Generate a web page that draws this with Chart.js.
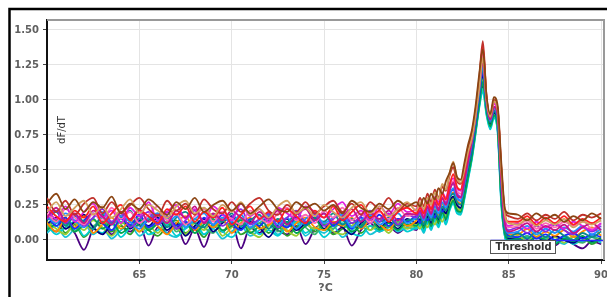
<!DOCTYPE html>
<html><head><meta charset="utf-8">
<script src="https://cdn.jsdelivr.net/npm/chart.js@4.4.1/dist/chart.umd.min.js"></script>
<style>html,body{margin:0;padding:0;background:#fff;}canvas{display:block;}</style>
</head><body>
<canvas id="c" width="607" height="297"></canvas>
<script>
// Temperature grid (°C)
const xs = [60,60.5,61,61.5,62,62.5,63,63.5,64,64.5,65,65.5,66,66.5,67,67.5,68,68.5,69,69.5,70,70.5,71,71.5,72,72.5,73,73.5,74,74.5,75,75.5,76,76.5,77,77.5,78,78.5,79,79.5,80,
  80.2,80.4,80.6,80.8,81,81.2,81.4,81.6,81.8,82,82.2,82.4,82.6,82.8,83,83.2,83.4,83.6,83.8,84,84.2,84.4,84.6,84.8,85,
  85.5,86,86.5,87,87.5,88,88.5,89,89.5,90];

// dF/dT series (one per sample)
const s1 = [0.30,0.20,0.28,0.18,0.26,0.30,0.19,0.27,0.20,0.25,0.30,0.22,0.17,0.28,0.21,0.26,0.18,0.29,0.22,0.19,0.27,0.20,0.26,0.30,0.21,0.18,0.25,0.20,0.27,0.19,0.24,0.28,0.20,0.26,0.18,0.27,0.22,0.30,0.21,0.26,0.24,
  0.30,0.24,0.33,0.27,0.36,0.30,0.38,0.35,0.46,0.52,0.42,0.40,0.52,0.66,0.75,0.92,1.15,1.42,1.02,0.88,1.00,0.94,0.50,0.20,0.17,
  0.15,0.19,0.14,0.18,0.15,0.20,0.14,0.18,0.16,0.19];
const s2 = [0.18,0.10,0.16,0.08,0.14,0.19,0.12,0.07,0.15,0.11,0.18,0.09,0.14,0.20,0.10,0.13,0.08,0.16,0.11,0.18,0.12,0.07,0.15,0.10,0.17,0.13,0.09,0.16,0.11,0.14,0.19,0.10,0.15,0.08,0.16,0.12,0.18,0.10,0.15,0.13,0.17,
  0.12,0.18,0.14,0.20,0.16,0.24,0.20,0.28,0.33,0.36,0.30,0.28,0.38,0.52,0.64,0.82,1.02,1.20,0.96,0.84,0.92,0.86,0.38,0.08,0.03,
  0.02,0.05,0.01,0.04,0.00,0.03,0.05,0.01,0.04,0.02];
const s3 = [0.08,0.14,0.05,0.11,0.02,0.09,0.13,0.06,0.10,0.04,0.12,0.07,0.03,0.10,0.14,0.05,0.09,0.02,0.11,0.06,0.13,0.04,0.08,0.12,0.05,0.10,0.03,0.09,0.13,0.06,0.11,0.04,0.08,0.12,0.05,0.10,0.07,0.13,0.08,0.11,0.09,
  0.14,0.08,0.16,0.10,0.18,0.12,0.22,0.18,0.26,0.30,0.24,0.22,0.34,0.48,0.62,0.80,0.98,1.12,0.92,0.82,0.90,0.80,0.30,0.04,0.00,
  -0.02,0.02,-0.03,0.01,-0.02,0.03,-0.01,0.02,-0.03,0.01];
const s4 = [0.22,0.15,0.24,0.13,0.20,0.26,0.16,0.21,0.12,0.23,0.17,0.27,0.14,0.20,0.25,0.15,0.22,0.13,0.24,0.18,0.14,0.26,0.17,0.22,0.13,0.23,0.19,0.15,0.24,0.20,0.16,0.22,0.27,0.17,0.21,0.14,0.24,0.18,0.26,0.20,0.22,
  0.26,0.20,0.28,0.22,0.31,0.27,0.34,0.30,0.40,0.44,0.37,0.35,0.46,0.60,0.72,0.90,1.10,1.30,1.00,0.87,0.97,0.92,0.46,0.14,0.10,
  0.12,0.08,0.13,0.09,0.12,0.08,0.13,0.10,0.07,0.12];
const s5 = [0.12,0.06,0.15,0.09,0.17,0.05,0.11,0.16,0.08,0.13,0.06,0.15,0.10,0.04,0.12,0.17,0.07,0.13,0.09,0.15,0.05,0.12,0.16,0.08,0.11,0.14,0.06,0.12,0.16,0.09,0.07,0.13,0.10,0.16,0.08,0.14,0.11,0.07,0.15,0.10,0.14,
  0.18,0.12,0.20,0.15,0.22,0.18,0.26,0.22,0.30,0.34,0.28,0.26,0.40,0.54,0.68,0.86,1.06,1.25,0.97,0.85,0.93,0.87,0.40,0.09,0.04,
  0.04,0.08,0.02,0.06,0.03,0.07,0.02,0.06,0.09,0.03];
const s6 = [0.05,0.10,0.02,0.08,0.12,0.04,0.09,0.01,0.07,0.11,0.03,0.08,0.12,0.05,0.02,0.09,0.13,0.04,0.08,0.01,0.06,0.10,0.03,0.07,0.11,0.04,0.09,0.12,0.03,0.08,0.05,0.10,0.02,0.07,0.11,0.04,0.08,0.12,0.06,0.09,0.08,
  0.10,0.05,0.12,0.07,0.15,0.10,0.18,0.12,0.22,0.27,0.20,0.19,0.30,0.44,0.58,0.76,0.95,1.08,0.90,0.80,0.88,0.78,0.26,0.02,-0.02,
  -0.01,0.03,-0.02,0.02,0.00,-0.03,0.02,-0.01,0.03,0.00];
const s7 = [0.15,0.21,0.12,0.18,0.10,0.16,0.22,0.13,0.19,0.09,0.15,0.20,0.11,0.17,0.08,0.14,0.21,0.12,0.18,0.10,0.16,0.22,0.11,0.15,0.19,0.09,0.16,0.21,0.13,0.18,0.10,0.15,0.20,0.12,0.17,0.21,0.13,0.19,0.11,0.18,0.16,
  0.20,0.15,0.23,0.18,0.26,0.22,0.30,0.26,0.36,0.40,0.33,0.31,0.43,0.57,0.70,0.88,1.08,1.28,0.99,0.86,0.95,0.90,0.44,0.12,0.07,
  0.09,0.05,0.10,0.06,0.11,0.07,0.04,0.09,0.06,0.10];
const s8 = [0.26,0.33,0.22,0.29,0.20,0.27,0.23,0.31,0.19,0.26,0.22,0.29,0.24,0.18,0.27,0.22,0.30,0.20,0.25,0.28,0.21,0.26,0.19,0.24,0.29,0.22,0.20,0.27,0.23,0.26,0.21,0.25,0.19,0.28,0.23,0.20,0.26,0.22,0.28,0.24,0.27,
  0.24,0.30,0.26,0.33,0.29,0.37,0.33,0.42,0.48,0.55,0.45,0.43,0.55,0.68,0.78,0.95,1.18,1.36,1.03,0.90,1.02,0.96,0.55,0.22,0.19,
  0.18,0.14,0.19,0.15,0.18,0.13,0.17,0.14,0.19,0.15];
const s9 = [0.11,0.16,0.08,0.13,0.18,0.09,0.04,0.12,0.17,0.08,0.14,0.10,0.16,0.07,0.12,0.03,0.10,0.15,0.06,0.12,0.17,0.08,0.13,0.09,0.02,0.11,0.15,0.07,0.12,0.16,0.08,0.13,0.09,0.04,0.12,0.16,0.09,0.13,0.08,0.15,0.12,
  0.15,0.10,0.17,0.12,0.19,0.14,0.22,0.19,0.28,0.31,0.25,0.23,0.36,0.50,0.64,0.82,1.02,1.18,0.94,0.83,0.91,0.84,0.34,0.06,0.01,
  0.01,-0.02,0.02,-0.01,0.03,0.00,-0.02,0.02,-0.01,0.01];
const s10 = [0.10,0.06,0.12,0.05,-0.07,0.08,0.12,0.04,0.10,0.06,0.11,-0.04,0.09,0.05,0.11,-0.03,0.08,-0.05,0.10,0.06,0.12,-0.06,0.09,0.05,0.11,0.07,0.04,0.10,-0.03,0.08,0.11,0.05,0.09,-0.04,0.07,0.12,0.06,0.10,0.05,0.09,0.07,
  0.12,0.08,0.14,0.09,0.16,0.11,0.19,0.14,0.24,0.28,0.22,0.20,0.32,0.46,0.60,0.78,0.97,1.10,0.91,0.81,0.89,0.80,0.28,0.03,-0.02,
  -0.04,0.00,-0.05,-0.01,-0.04,0.01,-0.03,-0.06,-0.01,-0.03];
const s11 = [0.19,0.13,0.22,0.16,0.11,0.19,0.14,0.23,0.15,0.20,0.12,0.18,0.24,0.14,0.19,0.11,0.17,0.22,0.13,0.20,0.15,0.11,0.21,0.16,0.12,0.19,0.23,0.14,0.18,0.12,0.21,0.16,0.23,0.14,0.19,0.12,0.20,0.15,0.23,0.17,0.20,
  0.22,0.17,0.25,0.20,0.28,0.24,0.31,0.28,0.38,0.42,0.35,0.33,0.44,0.58,0.71,0.89,1.12,1.33,1.01,0.88,0.98,0.93,0.48,0.15,0.09,
  0.10,0.14,0.08,0.12,0.09,0.13,0.10,0.14,0.08,0.12];
const s12 = [0.13,0.08,0.04,0.12,0.07,0.14,0.09,0.03,0.11,0.15,0.06,0.10,0.05,0.13,0.09,0.04,0.12,0.07,0.14,0.03,0.09,0.12,0.06,0.02,0.10,0.14,0.07,0.03,0.11,0.08,0.13,0.06,0.04,0.10,0.14,0.07,0.11,0.05,0.12,0.08,0.11,
  0.08,0.13,0.09,0.15,0.11,0.17,0.13,0.20,0.25,0.29,0.23,0.21,0.33,0.47,0.61,0.79,0.99,1.15,0.93,0.83,0.91,0.82,0.32,0.05,0.01,
  0.03,-0.01,0.04,0.00,0.02,-0.02,0.03,0.01,-0.01,0.02];
const s13 = [0.14,0.20,0.10,0.17,0.13,0.08,0.18,0.12,0.16,0.21,0.10,0.14,0.19,0.09,0.16,0.20,0.12,0.09,0.17,0.13,0.19,0.10,0.14,0.18,0.08,0.15,0.12,0.20,0.10,0.16,0.13,0.19,0.11,0.15,0.09,0.17,0.13,0.16,0.10,0.14,0.15,
  0.17,0.11,0.19,0.14,0.21,0.16,0.24,0.21,0.30,0.33,0.27,0.25,0.38,0.52,0.66,0.84,1.04,1.22,0.96,0.84,0.92,0.86,0.37,0.07,0.02,
  0.05,0.01,0.06,0.02,0.07,0.03,0.00,0.05,0.02,0.06];
const s14 = [0.24,0.17,0.13,0.21,0.16,0.24,0.12,0.19,0.25,0.14,0.21,0.17,0.12,0.22,0.18,0.24,0.13,0.20,0.16,0.23,0.11,0.18,0.24,0.15,0.20,0.13,0.22,0.17,0.12,0.21,0.16,0.24,0.14,0.20,0.25,0.16,0.21,0.13,0.20,0.23,0.19,
  0.23,0.19,0.27,0.22,0.30,0.25,0.33,0.29,0.39,0.47,0.38,0.36,0.48,0.62,0.73,0.90,1.12,1.38,1.02,0.89,0.99,0.94,0.52,0.18,0.13,
  0.13,0.17,0.11,0.16,0.12,0.17,0.11,0.15,0.12,0.16];
const s15 = [0.09,0.15,0.11,0.06,0.14,0.10,0.16,0.07,0.13,0.09,0.17,0.08,0.12,0.16,0.06,0.11,0.15,0.09,0.05,0.13,0.10,0.15,0.08,0.12,0.16,0.06,0.11,0.14,0.09,0.04,0.12,0.08,0.15,0.10,0.13,0.07,0.15,0.09,0.13,0.10,0.12,
  0.14,0.10,0.16,0.11,0.19,0.15,0.21,0.16,0.25,0.29,0.24,0.22,0.34,0.49,0.63,0.81,1.00,1.16,0.93,0.82,0.90,0.83,0.33,0.05,0.00,
  0.00,0.03,-0.02,0.02,-0.01,0.03,0.00,-0.02,0.02,0.00];
const s16 = [0.17,0.12,0.19,0.14,0.09,0.16,0.20,0.11,0.17,0.13,0.08,0.16,0.19,0.12,0.17,0.09,0.15,0.19,0.11,0.16,0.13,0.18,0.09,0.14,0.18,0.11,0.16,0.08,0.15,0.19,0.12,0.16,0.18,0.09,0.14,0.18,0.11,0.15,0.19,0.12,0.16,
  0.19,0.14,0.21,0.16,0.24,0.19,0.27,0.23,0.32,0.37,0.30,0.28,0.40,0.55,0.69,0.87,1.06,1.24,0.98,0.85,0.94,0.88,0.41,0.10,0.05,
  0.06,0.10,0.04,0.08,0.05,0.09,0.06,0.10,0.04,0.08];
const s17 = [0.20,0.27,0.17,0.23,0.28,0.18,0.24,0.16,0.22,0.29,0.19,0.25,0.21,0.16,0.24,0.28,0.19,0.23,0.17,0.25,0.20,0.27,0.18,0.22,0.16,0.24,0.28,0.19,0.23,0.17,0.25,0.20,0.16,0.23,0.27,0.19,0.24,0.17,0.22,0.27,0.21,
  0.27,0.22,0.30,0.25,0.34,0.29,0.40,0.36,0.48,0.56,0.44,0.41,0.50,0.63,0.72,0.88,1.08,1.30,1.00,0.88,0.99,0.93,0.50,0.17,0.12,
  0.11,0.15,0.10,0.14,0.11,0.15,0.09,0.13,0.11,0.14];
const s18 = [0.07,0.12,0.16,0.06,0.11,0.15,0.08,0.13,0.05,0.10,0.15,0.07,0.12,0.17,0.08,0.12,0.05,0.11,0.15,0.07,0.10,0.14,0.05,0.10,0.14,0.08,0.13,0.05,0.10,0.15,0.07,0.11,0.14,0.06,0.10,0.15,0.08,0.12,0.07,0.13,0.10,
  0.13,0.09,0.15,0.10,0.17,0.13,0.20,0.15,0.23,0.28,0.21,0.20,0.31,0.45,0.59,0.77,0.96,1.13,0.92,0.81,0.89,0.81,0.29,0.04,0.00,
  0.01,-0.02,0.02,0.00,-0.03,0.01,-0.01,0.03,-0.02,0.01];
const s19 = [0.16,0.23,0.14,0.19,0.12,0.21,0.17,0.11,0.20,0.15,0.22,0.13,0.18,0.12,0.21,0.16,0.24,0.12,0.19,0.14,0.21,0.16,0.12,0.20,0.15,0.21,0.11,0.18,0.22,0.14,0.19,0.12,0.17,0.22,0.13,0.19,0.15,0.21,0.14,0.19,0.18,
  0.21,0.16,0.24,0.19,0.27,0.21,0.30,0.25,0.35,0.41,0.32,0.30,0.42,0.56,0.70,0.88,1.09,1.27,0.99,0.86,0.95,0.89,0.43,0.11,0.06,
  0.08,0.12,0.06,0.10,0.07,0.11,0.05,0.09,0.12,0.07];
const s20 = [0.11,0.04,0.09,0.13,0.03,0.08,0.05,0.12,0.02,0.09,0.13,0.04,0.07,0.11,0.03,0.08,0.12,0.04,0.10,0.06,0.02,0.09,0.12,0.04,0.07,0.03,0.10,0.13,0.05,0.09,0.02,0.08,0.12,0.05,0.03,0.10,0.06,0.09,0.12,0.06,0.09,
  0.11,0.06,0.13,0.08,0.14,0.09,0.17,0.11,0.21,0.26,0.19,0.18,0.29,0.43,0.57,0.75,0.94,1.06,0.89,0.79,0.87,0.77,0.25,0.02,-0.03,
  -0.02,0.02,-0.04,0.01,-0.02,0.02,-0.03,0.00,0.02,-0.02];

const seriesList = [s8, s17, s1, s14, s19, s4, s11, s7, s16, s13, s2, s5, s18, s9, s12, s15, s20, s3, s6, s10];
const seriesColors = ['#8b4513','#d2a060','#c0302a','#ff2020','#c71585','#e01ee0','#ff69b4','#8a2be2','#1e90ff','#0a8a8a','#1a2cff','#ff8c00','#00a550','#000080','#9acd32','#3cb371','#00ced1','#2ca02c','#17c3d6','#4b0082'];

const xTicks = [65,70,75,80,85,90];
const yTicks = [0,0.25,0.5,0.75,1.0,1.25,1.5];
const xTitle = '?C';
const yTitle = 'dF/dT';
const thresholdValue = 0.0;
const thresholdStart = 84.0;
const thresholdLabel = 'Threshold';

const FONT = '"DejaVu Sans", sans-serif';
Chart.defaults.font.family = FONT;

const decor = {
  id: 'decor',
  beforeDraw(chart) {
    const ctx = chart.ctx;
    ctx.save(); ctx.fillStyle = '#fff'; ctx.fillRect(0, 0, chart.width, chart.height); ctx.restore();
  },
  afterDatasetsDraw(chart) {
    const { ctx, chartArea: a, scales: { x, y } } = chart;
    ctx.save();
    const ty = Math.round(y.getPixelForValue(thresholdValue)) + 0.5;
    const tx = Math.round(x.getPixelForValue(thresholdStart)) + 0.5;
    ctx.strokeStyle = '#2a2aff'; ctx.lineWidth = 1.5;
    ctx.beginPath(); ctx.moveTo(tx, ty); ctx.lineTo(a.right, ty); ctx.stroke();
    ctx.font = 'bold 10px ' + FONT;
    const w = Math.round(ctx.measureText(thresholdLabel).width + 9);
    ctx.fillStyle = '#fff'; ctx.fillRect(tx, ty, w, 13);
    ctx.strokeStyle = '#555'; ctx.lineWidth = 1; ctx.strokeRect(tx, ty, w, 13);
    ctx.fillStyle = '#333'; ctx.textBaseline = 'middle'; ctx.textAlign = 'left';
    ctx.fillText(thresholdLabel, tx + 5, ty + 7);
    ctx.translate(a.left + 15, 130);
    ctx.rotate(-Math.PI / 2);
    ctx.font = '10px ' + FONT; ctx.fillStyle = '#333'; ctx.textAlign = 'center';
    ctx.fillText(yTitle, 0, 0);
    ctx.restore();
  },
  afterDraw(chart) {
    const { ctx, chartArea: a } = chart;
    ctx.save();
    ctx.strokeStyle = '#999'; ctx.lineWidth = 2;
    ctx.beginPath(); ctx.moveTo(a.left, a.top); ctx.lineTo(a.right, a.top); ctx.lineTo(a.right, a.bottom); ctx.stroke();
    ctx.strokeStyle = '#000'; ctx.lineWidth = 2.5;
    ctx.beginPath(); ctx.moveTo(9.5, chart.height); ctx.lineTo(9.5, 9); ctx.lineTo(chart.width, 9); ctx.stroke();
    ctx.restore();
  }
};

new Chart(document.getElementById('c'), {
  type: 'line',
  data: {
    datasets: seriesList.map((s, k) => ({
      data: xs.map((xv, i) => ({ x: xv, y: s[i] })),
      borderColor: seriesColors[k],
      borderWidth: 1.8,
      pointRadius: 0,
      fill: false,
      cubicInterpolationMode: 'monotone'
    }))
  },
  plugins: [decor],
  options: {
    responsive: false,
    animation: false,
    devicePixelRatio: 1,
    layout: { padding: { left: 0, right: 3, top: 20, bottom: 0 } },
    plugins: { legend: { display: false }, tooltip: { enabled: false } },
    scales: {
      x: {
        type: 'linear', min: 60, max: 90.16,
        afterBuildTicks: s => { s.ticks = xTicks.map(v => ({ value: v })); },
        afterFit: s => { s.height = 37; s.paddingLeft = 0; s.paddingRight = 0; },
        ticks: { color: '#606060', font: { size: 10, weight: 'bold' }, padding: 5, maxRotation: 0, callback: v => String(v) },
        grid: { color: '#e4e4e4', lineWidth: 1, tickColor: '#444', tickLength: 4 },
        border: { color: '#111', width: 2 },
        title: { display: true, text: xTitle, color: '#606060', font: { size: 11, weight: 'bold' }, padding: { top: 0, bottom: 2 } }
      },
      y: {
        type: 'linear', min: -0.143, max: 1.571,
        afterBuildTicks: s => { s.ticks = yTicks.map(v => ({ value: v })); },
        afterFit: s => { s.width = 47; s.paddingTop = 0; s.paddingBottom = 0; },
        ticks: { color: '#606060', font: { size: 10, weight: 'bold' }, padding: 4, callback: v => Number(v).toFixed(2) },
        grid: { color: '#e4e4e4', lineWidth: 1, tickColor: '#444', tickLength: 4 },
        border: { color: '#111', width: 2 }
      }
    }
  }
});
</script>
</body></html>
